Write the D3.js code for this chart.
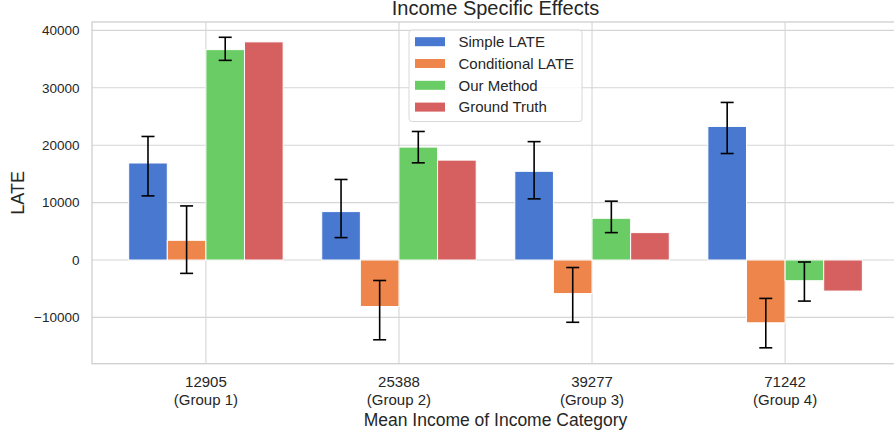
<!DOCTYPE html>
<html>
<head>
<meta charset="utf-8">
<script src="https://cdn.jsdelivr.net/npm/d3@7"></script>
<style>
  html, body { margin: 0; padding: 0; background: #fff; }
  svg { display: block; font-family: "Liberation Sans", Arial, sans-serif; }
</style>
</head>
<body>
<svg id="chart" width="894" height="433"></svg>
<script>
// Income groups on the x axis
const categories = ["12905", "25388", "39277", "71242"];
const groupLabels = ["(Group 1)", "(Group 2)", "(Group 3)", "(Group 4)"];

// Series names and colours
const seriesNames = ["Simple LATE", "Conditional LATE", "Our Method", "Ground Truth"];
const seriesColors = ["#4878d0", "#ee854a", "#6acc64", "#d65f5f"];

// Estimates per income group
const simpleLate = [16900, 8430, 15450, 23270];
const conditionalLate = [3430, -8100, -5850, -10940];
const ourMethod = [36650, 19670, 7270, -3610];
const groundTruth = [38000, 17400, 4770, -5410];

// Confidence interval bounds (null = no error bar)
const simpleLo = [11170, 3900, 10650, 18550];
const simpleHi = [21520, 14030, 20620, 27450];
const conditionalLo = [-2330, -13900, -10850, -15300];
const conditionalHi = [9420, -3570, -1310, -6690];
const ourLo = [34780, 16930, 4770, -7160];
const ourHi = [38800, 22390, 10250, -350];

const yTicks = [-10000, 0, 10000, 20000, 30000, 40000];

const series = [
  { values: simpleLate, lo: simpleLo, hi: simpleHi },
  { values: conditionalLate, lo: conditionalLo, hi: conditionalHi },
  { values: ourMethod, lo: ourLo, hi: ourHi },
  { values: groundTruth, lo: null, hi: null }
];

const svg = d3.select("#chart");
const plot = { left: 92, top: 22, right: 899, bottom: 363.7 };
const barWidth = 0.2;
const textColor = "#262626";
const gridColor = "#d5d5d5";

const x = d3.scaleLinear().domain([-0.59, 3.59]).range([plot.left, plot.right]);
const y = d3.scaleLinear().domain([-18066, 41463]).range([plot.bottom, plot.top]);

// Grid lines
const grid = svg.append("g");
grid.selectAll("line.h").data(yTicks).join("line")
  .attr("x1", plot.left).attr("x2", plot.right)
  .attr("y1", d => y(d)).attr("y2", d => y(d))
  .attr("stroke", gridColor).attr("stroke-width", 1.1);
grid.selectAll("line.v").data(categories).join("line")
  .attr("x1", (d, i) => x(i)).attr("x2", (d, i) => x(i))
  .attr("y1", plot.top).attr("y2", plot.bottom)
  .attr("stroke", gridColor).attr("stroke-width", 1.1);

// Frame
svg.append("rect")
  .attr("x", plot.left).attr("y", plot.top)
  .attr("width", plot.right - plot.left).attr("height", plot.bottom - plot.top)
  .attr("fill", "none").attr("stroke", "#cfcfcf").attr("stroke-width", 1.3);

// Bars
series.forEach((s, k) => {
  const offset = (k - 1.5) * barWidth;
  svg.append("g").selectAll("rect").data(s.values).join("rect")
    .attr("x", (d, i) => x(i + offset - barWidth / 2))
    .attr("width", x(barWidth) - x(0))
    .attr("y", d => y(Math.max(0, d)))
    .attr("height", d => Math.abs(y(d) - y(0)))
    .attr("fill", seriesColors[k])
    .attr("stroke", "#fff").attr("stroke-width", 1);
});

// Error bars
series.forEach((s, k) => {
  if (!s.lo) return;
  const offset = (k - 1.5) * barWidth;
  const g = svg.append("g").attr("stroke", "#000").attr("stroke-width", 1.6);
  s.values.forEach((v, i) => {
    const cx = x(i + offset);
    const y0 = y(s.lo[i]), y1 = y(s.hi[i]);
    g.append("line").attr("x1", cx).attr("x2", cx).attr("y1", y0).attr("y2", y1);
    g.append("line").attr("x1", cx - 6.5).attr("x2", cx + 6.5).attr("y1", y0).attr("y2", y0);
    g.append("line").attr("x1", cx - 6.5).attr("x2", cx + 6.5).attr("y1", y1).attr("y2", y1);
  });
});

// Y axis tick labels
const fmt = d => (d < 0 ? "\u2212" : "") + Math.abs(d);
svg.append("g").selectAll("text").data(yTicks).join("text")
  .attr("x", 79.5).attr("y", d => y(d)).attr("dy", "0.35em")
  .attr("text-anchor", "end").attr("font-size", 13.5).attr("fill", textColor)
  .text(fmt);

// X axis tick labels (two lines)
const xt = svg.append("g").selectAll("text").data(categories).join("text")
  .attr("text-anchor", "middle").attr("font-size", 15).attr("fill", textColor)
  .attr("x", (d, i) => x(i));
xt.append("tspan").attr("x", (d, i) => x(i)).attr("y", 387).text(d => d);
xt.append("tspan").attr("x", (d, i) => x(i)).attr("y", 404.5).text((d, i) => groupLabels[i]);

// Axis titles
svg.append("text")
  .attr("x", (plot.left + plot.right) / 2).attr("y", 426)
  .attr("text-anchor", "middle").attr("font-size", 17.5).attr("fill", textColor)
  .text("Mean Income of Income Category");
svg.append("text")
  .attr("transform", `translate(24,${(plot.top + plot.bottom) / 2}) rotate(-90)`)
  .attr("text-anchor", "middle").attr("font-size", 18).attr("fill", textColor)
  .text("LATE");

// Title
svg.append("text")
  .attr("x", (plot.left + plot.right) / 2).attr("y", 15)
  .attr("text-anchor", "middle").attr("font-size", 20).attr("fill", textColor)
  .text("Income Specific Effects");

// Legend
const legend = svg.append("g").attr("transform", "translate(409,30)");
legend.append("rect")
  .attr("width", 173).attr("height", 91.5).attr("rx", 3)
  .attr("fill", "#fff").attr("fill-opacity", 0.8)
  .attr("stroke", "#d8d8d8").attr("stroke-width", 1);
const rows = legend.selectAll("g").data(seriesNames).join("g")
  .attr("transform", (d, i) => `translate(0,${11.7 + i * 21.8})`);
rows.append("rect")
  .attr("x", 6).attr("y", -4.5).attr("width", 30).attr("height", 9)
  .attr("fill", (d, i) => seriesColors[i]);
rows.append("text")
  .attr("x", 49.5).attr("dy", "0.35em")
  .attr("font-size", 15).attr("fill", textColor)
  .text(d => d);
</script>
</body>
</html>
